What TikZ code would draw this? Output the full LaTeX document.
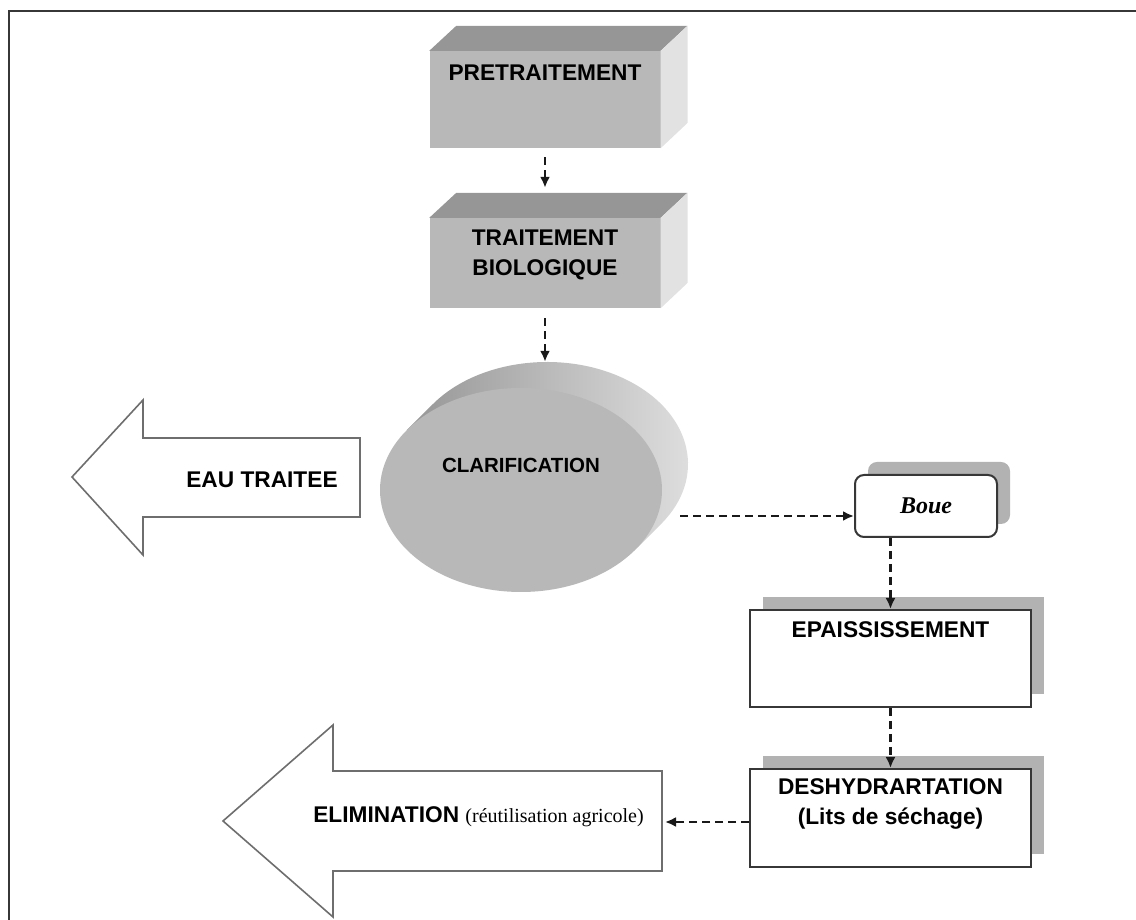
\documentclass[tikz,border=0pt]{standalone}
\usepackage{fontspec}
\setmainfont{Liberation Sans}
\newfontfamily\timesfont{Liberation Serif}
\usetikzlibrary{positioning,arrows.meta,shadows,shapes.geometric}

\definecolor{facegray}{RGB}{184,184,184}
\definecolor{topgray}{RGB}{150,150,150}
\definecolor{sidegray}{RGB}{226,226,226}
\definecolor{shadowgray}{RGB}{178,178,178}
\definecolor{linegray}{RGB}{55,55,55}
\definecolor{arrowgray}{RGB}{110,110,110}

\begin{document}
\begin{tikzpicture}[x=1pt, y=1pt,
  labeltext/.style={font=\bfseries\fontsize{22.7}{30}\selectfont, inner sep=0pt, align=center},
  block/.style={fill=facegray, inner sep=0pt, minimum width=231pt, minimum height=97pt},
  note/.style={draw=linegray, line width=2pt, fill=white, inner sep=0pt,
    drop shadow={shadow xshift=13pt, shadow yshift=13pt, fill=shadowgray, opacity=1}},
  outlet/.style={draw=arrowgray, line width=1.6pt, fill=white, line join=miter},
  flow/.style={draw=black!90, line width=2.2pt, dash pattern=on 8pt off 5pt, -{Latex[length=11pt,width=10pt]}}]
  \useasboundingbox (0,0) rectangle (1136,920);
  \draw[linegray, line width=1.7pt] (1136,909) -- (9,909) -- (9,0);

  \node[block] (pre) at (545,820.5) {};
  \fill[topgray] (pre.north west) -- ++(27,25) -- ++(231,0) -- (pre.north east) -- cycle;
  \fill[sidegray] (pre.north east) -- ++(27,25) -- ++(0,-97) -- (pre.south east) -- cycle;
  \node[labeltext, below=14pt of pre.north] {PRETRAITEMENT};

  \node[block, minimum height=90pt] (bio) at (545,657) {};
  \fill[topgray] (bio.north west) -- ++(27,25) -- ++(231,0) -- (bio.north east) -- cycle;
  \fill[sidegray] (bio.north east) -- ++(27,25) -- ++(0,-90) -- (bio.south east) -- cycle;
  \node[labeltext, below=12pt of bio.north] {TRAITEMENT\\BIOLOGIQUE};
  \draw[flow, shorten <=9pt, shorten >=30pt] (pre.south) -- (bio.north);

  \shade[left color=topgray, right color=sidegray] (406.8,489.8) -- (432.8,515.8)
    arc[start angle=144.1, end angle=-35.9, x radius=141, y radius=102] -- (635.2,370.2) -- cycle;
  \node[ellipse, fill=facegray, inner sep=0pt, minimum width=282pt, minimum height=204pt] (clar) at (521,430) {};
  \node[labeltext, font=\bfseries\fontsize{20.5}{24}\selectfont] at ([yshift=25pt]clar.center) {CLARIFICATION};
  \coordinate (clar top) at ([shift={(26,26)}]clar.north);
  \draw[flow, shorten <=10pt] (bio.south) -- (bio.south |- clar top);

  \draw[outlet] (360,403) -- (143,403) -- (143,365) -- (72,443) -- (143,520) -- (143,482) -- (360,482) -- cycle;
  \node[labeltext] (eau) at (262,440) {EAU TRAITEE};

  \node[note, rounded corners=9pt, minimum width=142pt, minimum height=62pt,
    font=\timesfont\bfseries\itshape\fontsize{24}{28}\selectfont] (boue) at (926,414) {Boue};
  \coordinate (boue in) at ([yshift=-10pt]boue.west);
  \draw[flow, shorten <=18pt] (clar.east |- boue in) -- (boue in);

  \node[note, minimum width=281pt, minimum height=97pt] (epais) at (890.5,261.5) {};
  \node[labeltext, below=12pt of epais.north] {EPAISSISSEMENT};
  \draw[flow] (epais.north |- boue.south) -- (epais.north);

  \node[note, minimum width=281pt, minimum height=98pt] (dehyd) at (890.5,102) {};
  \node[labeltext, below=10pt of dehyd.north] {DESHYDRARTATION\\(Lits de séchage)};
  \draw[flow] (epais.south) -- (dehyd.north);

  \draw[outlet] (662,49) -- (333,49) -- (333,3) -- (223,99) -- (333,195) -- (333,149) -- (662,149) -- cycle;
  \coordinate (elim tail) at (662,98);
  \node[anchor=base, inner sep=0pt, font=\bfseries\fontsize{22.7}{28}\selectfont] (elim) at (478.5,97)
    {ELIMINATION {\timesfont\mdseries\fontsize{20}{24}\selectfont(réutilisation agricole)}};
  \draw[flow, shorten >=3pt] (dehyd.west |- elim tail) -- (elim tail);
\end{tikzpicture}
\end{document}
